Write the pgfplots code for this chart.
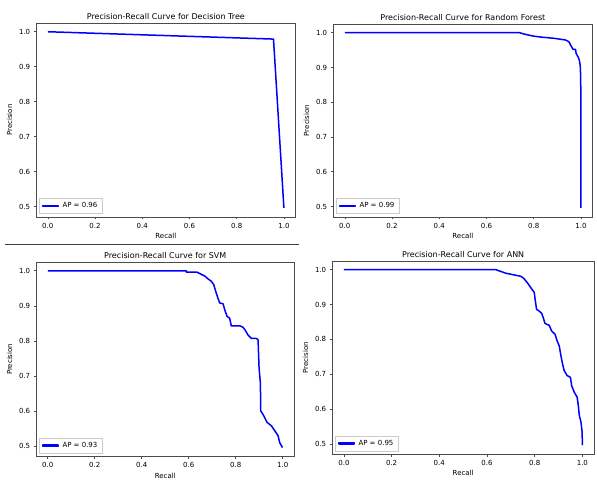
\documentclass[border=0pt]{standalone}
\usepackage{fontspec}
\setmainfont{DejaVu Sans}
\usepackage{pgfplots}
\pgfplotsset{compat=1.18}

\definecolor{spine}{gray}{0.3}

\pgfplotsset{
  prcurve/.style={
    scale only axis, anchor=south west,
    xmin=-0.05, xmax=1.05, ymin=0.47, ymax=1.025,
    xtick={0,0.2,0.4,0.6,0.8,1.0},
    ytick={0.5,0.6,0.7,0.8,0.9,1.0},
    tick pos=left, tick align=outside, major tick length=2.3pt,
    tick style={color=spine, line width=0.6pt},
    axis line style={color=spine, line width=0.7pt},
    /pgf/number format/.cd, fixed, fixed zerofill, precision=1, assume math mode=true, /pgfplots/.cd,
    tick label style={font=\fontsize{7}{8}\selectfont},
    label style={font=\fontsize{7}{8}\selectfont},
    xlabel style={yshift=2pt},
    title style={font=\fontsize{8}{9}\selectfont, at={(0.5,1)}, anchor=south, yshift=-6.5pt},
    xlabel=Recall, ylabel=Precision,
    legend style={at={(0,0)}, anchor=south west, xshift=3.3pt, yshift=3.3pt,
      draw=black!20, fill=white,
      font=\fontsize{7}{8}\selectfont, inner xsep=2.5pt, inner ysep=2.2pt,
      /tikz/every odd column/.append style={column sep=2pt}},
    legend cell align=left,
    legend image code/.code={\path[fill=blue] (0pt,-0.6pt) rectangle (15pt,0.6pt);},
  },
  prline/.style={color=blue, line width=1.5pt, no marks, line join=round},
}

\begin{document}
\begin{tikzpicture}
\useasboundingbox (0,0) rectangle (597pt,480pt);

% top left
\begin{axis}[prcurve, at={(36pt,263pt)}, width=259.7pt, height=194pt,
  title={Precision-Recall Curve for Decision Tree}]
\addplot[prline] coordinates {(0,1) (0.956,0.979) (1.0,0.496)};
\addlegendentry{AP = 0.96}
\end{axis}

% top right
\begin{axis}[prcurve, at={(333pt,263pt)}, width=259.7pt, height=193pt,
  title={Precision-Recall Curve for Random Forest}]
\addplot[prline] coordinates {(0,1) (0.74,1) (0.76,0.996) (0.78,0.993) (0.80,0.99) (0.836,0.987) (0.885,0.984) (0.935,0.979) (0.949,0.974) (0.96,0.96) (0.967,0.952) (0.977,0.952) (0.98,0.94) (0.989,0.929) (0.993,0.922) (0.997,0.907) (0.999,0.874) (1.0,0.80) (1.0,0.496)};
\addlegendentry{AP = 0.99}
\end{axis}

% bottom left
\begin{axis}[prcurve, at={(36pt,23.3pt)}, width=258.5pt, height=194.7pt,
  title={Precision-Recall Curve for SVM}]
\addplot[prline] coordinates {(0,1) (0.59,1) (0.59,0.996) (0.635,0.996) (0.668,0.985) (0.682,0.977) (0.696,0.970) (0.706,0.961) (0.715,0.941) (0.724,0.922) (0.732,0.908) (0.746,0.906) (0.753,0.889) (0.763,0.870) (0.774,0.865) (0.781,0.843) (0.817,0.843) (0.831,0.839) (0.842,0.829) (0.852,0.817) (0.867,0.807) (0.888,0.807) (0.895,0.803) (0.899,0.726) (0.905,0.678) (0.906,0.601) (0.919,0.587) (0.933,0.568) (0.952,0.558) (0.966,0.544) (0.980,0.530) (0.987,0.510) (0.999,0.496)};
\addlegendentry{AP = 0.93}
\end{axis}

% bottom right
\begin{axis}[prcurve, at={(332pt,25.7pt)}, width=262.3pt, height=193.3pt,
  title={Precision-Recall Curve for ANN}]
\addplot[prline] coordinates {(0,1) (0.637,1) (0.658,0.995) (0.679,0.990) (0.707,0.986) (0.742,0.981) (0.753,0.976) (0.770,0.962) (0.784,0.948) (0.798,0.935) (0.802,0.914) (0.808,0.886) (0.819,0.881) (0.829,0.875) (0.836,0.862) (0.843,0.846) (0.861,0.840) (0.871,0.824) (0.885,0.815) (0.894,0.796) (0.903,0.781) (0.910,0.753) (0.917,0.729) (0.924,0.710) (0.936,0.696) (0.950,0.691) (0.955,0.667) (0.966,0.648) (0.978,0.634) (0.983,0.610) (0.987,0.582) (0.994,0.563) (0.999,0.534) (1.0,0.496)};
\addlegendentry{AP = 0.95}
\end{axis}

% divider between the two rows
\draw[color=black!75, line width=0.7pt] (5pt,235.5pt) -- (299pt,235.5pt);
\end{tikzpicture}
\end{document}
